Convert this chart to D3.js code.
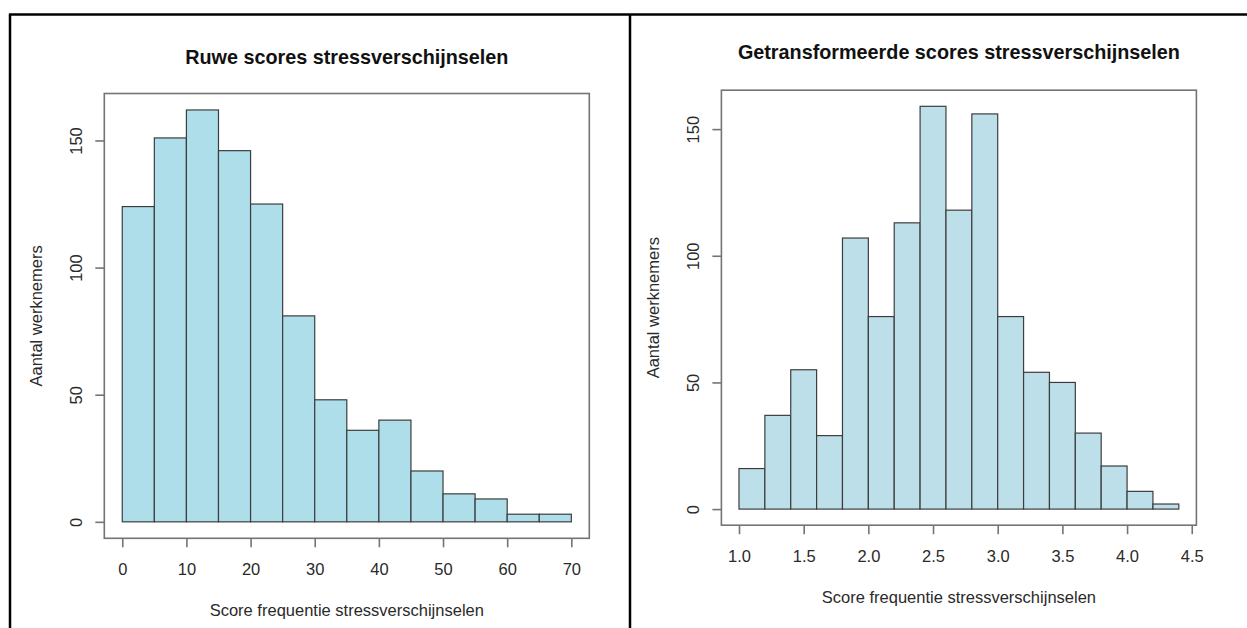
<!DOCTYPE html>
<html>
<head>
<meta charset="utf-8">
<script src="https://cdn.jsdelivr.net/npm/d3@7"></script>
<style>
  html, body { margin: 0; padding: 0; background: #fff; }
  svg { display: block; font-family: "Liberation Sans", Arial, Helvetica, sans-serif; }
</style>
</head>
<body>
<div id="chart"></div>
<script>
// left histogram: raw scores
const rawBreaks = [0, 5, 10, 15, 20, 25, 30, 35, 40, 45, 50, 55, 60, 65, 70];
const rawCounts = [124, 151, 162, 146, 125, 81, 48, 36, 40, 20, 11, 9, 3, 3];
const rawXTicks = [0, 10, 20, 30, 40, 50, 60, 70];

// right histogram: transformed scores
const trBreaks = [1.0, 1.2, 1.4, 1.6, 1.8, 2.0, 2.2, 2.4, 2.6, 2.8, 3.0, 3.2, 3.4, 3.6, 3.8, 4.0, 4.2, 4.4];
const trCounts = [16, 37, 55, 29, 107, 76, 113, 159, 118, 156, 76, 54, 50, 30, 17, 7, 2];
const trXTicks = [1.0, 1.5, 2.0, 2.5, 3.0, 3.5, 4.0, 4.5];

const yTicks = [0, 50, 100, 150];
const titles = ["Ruwe scores stressverschijnselen", "Getransformeerde scores stressverschijnselen"];
const xLabel = "Score frequentie stressverschijnselen";
const yLabel = "Aantal werknemers";

const width = 1247, height = 628;
const svg = d3.select("#chart").append("svg")
  .attr("width", width)
  .attr("height", height);

// table cell borders
const frame = svg.append("g").attr("stroke", "#000").attr("stroke-width", 2.5);
frame.append("line").attr("x1", 9).attr("x2", width).attr("y1", 14.5).attr("y2", 14.5);
frame.append("line").attr("x1", 10).attr("x2", 10).attr("y1", 14).attr("y2", height);
frame.append("line").attr("x1", 630).attr("x2", 630).attr("y1", 14).attr("y2", height);

// R style: axis range padded 4% each side
function pad(lo, hi) {
  const d = (hi - lo) * 0.04;
  return [lo - d, hi + d];
}

function drawHist(cfg) {
  const { box, breaks, counts, xTicks, xFmt, title, fill, titleY } = cfg;
  const g = svg.append("g");

  const x = d3.scaleLinear()
    .domain(pad(breaks[0], breaks[breaks.length - 1]))
    .range([box.left, box.right]);
  const y = d3.scaleLinear()
    .domain(pad(0, d3.max(counts)))
    .range([box.bottom, box.top]);

  const bins = counts.map((c, i) => ({ x0: breaks[i], x1: breaks[i + 1], n: c }));

  g.selectAll("rect.bar").data(bins).enter().append("rect")
    .attr("class", "bar")
    .attr("x", d => x(d.x0))
    .attr("y", d => y(d.n))
    .attr("width", d => x(d.x1) - x(d.x0))
    .attr("height", d => y(0) - y(d.n))
    .attr("fill", fill)
    .attr("stroke", "#3d3d3d")
    .attr("stroke-width", 1.2);

  // frame around plot region
  g.append("rect")
    .attr("x", box.left).attr("y", box.top)
    .attr("width", box.right - box.left)
    .attr("height", box.bottom - box.top)
    .attr("fill", "none")
    .attr("stroke", "#747474")
    .attr("stroke-width", 1.6);

  const xAxis = d3.axisBottom(x).tickValues(xTicks).tickFormat(xFmt).tickSize(9).tickSizeOuter(0);
  const xAxisG = g.append("g")
    .attr("transform", "translate(0," + box.bottom + ")")
    .call(xAxis);
  xAxisG.select(".domain").remove();
  xAxisG.selectAll(".tick line").attr("stroke", "#747474").attr("stroke-width", 1.6);
  xAxisG.selectAll(".tick text")
    .attr("y", 37).attr("dy", 0)
    .attr("fill", "#2a2a2a")
    .attr("font-size", "16.5px")
    .style("font-family", "Liberation Sans, Arial, sans-serif");

  const yAxis = d3.axisLeft(y).tickValues(yTicks).tickSize(9).tickSizeOuter(0);
  const yAxisG = g.append("g")
    .attr("transform", "translate(" + box.left + ",0)")
    .call(yAxis);
  yAxisG.select(".domain").remove();
  yAxisG.selectAll(".tick line").attr("stroke", "#747474").attr("stroke-width", 1.6);
  yAxisG.selectAll(".tick text")
    .attr("x", 0).attr("dy", 0)
    .attr("y", -22)
    .attr("transform", "rotate(-90)")
    .attr("text-anchor", "middle")
    .attr("fill", "#2a2a2a")
    .attr("font-size", "16.5px")
    .style("font-family", "Liberation Sans, Arial, sans-serif");

  const cx = (box.left + box.right) / 2;
  const cy = (box.top + box.bottom) / 2;

  g.append("text")
    .attr("x", cx).attr("y", titleY)
    .attr("text-anchor", "middle")
    .attr("font-weight", "bold")
    .attr("font-size", "19.8px")
    .attr("fill", "#111")
    .text(title);

  g.append("text")
    .attr("x", cx).attr("y", box.bottom + 78)
    .attr("text-anchor", "middle")
    .attr("font-size", "16.5px")
    .attr("fill", "#2a2a2a")
    .text(xLabel);

  g.append("text")
    .attr("transform", "translate(" + (box.left - 62) + "," + cy + ") rotate(-90)")
    .attr("text-anchor", "middle")
    .attr("font-size", "16.5px")
    .attr("fill", "#2a2a2a")
    .text(yLabel);
}

drawHist({
  box: { left: 104.3, right: 589.3, top: 93.5, bottom: 538.3 },
  breaks: rawBreaks, counts: rawCounts, xTicks: rawXTicks,
  xFmt: d3.format("d"), title: titles[0], fill: "#addeea", titleY: 64
});

drawHist({
  box: { left: 721.4, right: 1196.4, top: 90.2, bottom: 525.2 },
  breaks: trBreaks, counts: trCounts, xTicks: trXTicks,
  xFmt: d3.format(".1f"), title: titles[1], fill: "#bddfea", titleY: 59
});
</script>
</body>
</html>
